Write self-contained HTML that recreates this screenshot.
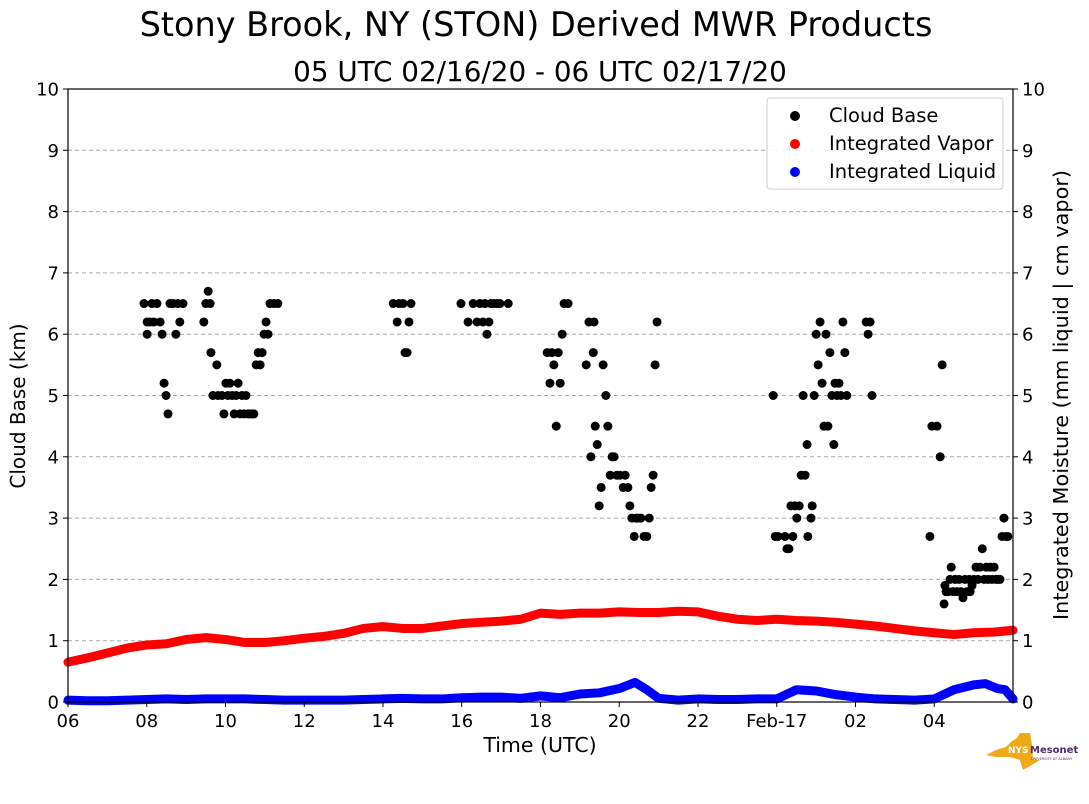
<!DOCTYPE html>
<html><head><meta charset="utf-8"><style>
body{margin:0;background:#fff;}
svg{display:block;font-family:"DejaVu Sans","Liberation Sans",sans-serif;}
</style></head><body>
<svg id="chart" width="1089" height="804" viewBox="0 0 1089 804" xmlns="http://www.w3.org/2000/svg">
<text x="536" y="36" font-size="33.5" text-anchor="middle">Stony Brook, NY (STON) Derived MWR Products</text>
<text x="540" y="81" font-size="27.8" text-anchor="middle">05 UTC 02/16/20 - 06 UTC 02/17/20</text>
<g id="grid"></g>
<g id="marks"></g>
<rect x="68" y="89" width="945" height="613" fill="none" stroke="#000" stroke-width="1.2"/>
<g id="axes"></g>
<text x="540" y="752" font-size="20.5" text-anchor="middle">Time (UTC)</text>
<text transform="translate(25,406) rotate(-90)" font-size="20" text-anchor="middle">Cloud Base (km)</text>
<text transform="translate(1068,395) rotate(-90)" font-size="20.8" text-anchor="middle">Integrated Moisture (mm liquid | cm vapor)</text>
<g>
<rect x="767" y="98" width="236" height="91" rx="3" fill="#fff" fill-opacity="0.85" stroke="#ccc"/>
<circle cx="795" cy="116" r="5" fill="#000"/>
<text x="829" y="122" font-size="19.5">Cloud Base</text>
<circle cx="795" cy="144" r="5" fill="#f00"/>
<text x="829" y="150" font-size="19.5">Integrated Vapor</text>
<circle cx="795" cy="172" r="5" fill="#00f"/>
<text x="829" y="178" font-size="19.5">Integrated Liquid</text>
</g>
<g>
<polygon points="986,755 996,750 1006,747 1012,741 1017,738 1020,733 1030,733 1032,745 1033,760 1040,760 1030,766 1023,770 1020,760 1010,757 996,757" fill="#f0a818"/>
<text x="1008" y="753" font-size="9" font-weight="bold" fill="#fff">NYS</text>
<text x="1030" y="753" font-size="10" font-weight="bold" fill="#4b2a6b">Mesonet</text>
<text x="1031" y="760" font-size="3.5" fill="#4b2a6b">UNIVERSITY AT ALBANY</text>
</g>
</svg>
<script>
const xTickLabels=["06","08","10","12","14","16","18","20","22","Feb-17","02","04"];
const yTicks=[0,1,2,3,4,5,6,7,8,9,10];
const cbHours=[1.93,2.01,2.01,2.08,2.13,2.18,2.26,2.34,2.39,2.44,2.49,2.54,2.59,2.67,2.74,2.79,2.84,2.92,
3.45,3.50,3.56,3.61,3.63,3.68,3.78,3.81,3.91,3.96,4.01,4.06,4.11,4.17,4.22,4.27,4.32,4.37,4.42,4.47,4.52,4.57,4.62,4.67,4.72,4.78,4.83,4.88,4.93,4.98,5.03,5.08,5.13,5.23,5.33,
8.26,8.36,8.41,8.51,8.56,8.61,8.66,8.71,
9.98,10.16,10.29,10.39,10.46,10.54,10.59,10.64,10.69,10.74,10.82,10.90,10.97,11.18,
12.17,12.24,12.29,12.34,12.40,12.45,12.50,12.55,12.60,12.70,
13.16,13.23,13.28,13.34,13.36,13.39,13.44,13.49,13.54,13.59,13.66,13.71,13.77,13.82,13.87,13.94,14.02,14.10,14.15,14.22,14.27,14.32,14.38,14.43,14.48,14.55,14.63,14.70,14.76,14.81,14.86,14.91,14.96,
17.91,17.96,18.03,18.21,18.26,18.31,18.36,18.41,18.46,18.51,18.57,18.62,18.67,18.72,18.77,18.79,18.87,18.90,18.95,19.00,19.05,19.10,19.15,19.20,19.25,19.30,19.35,19.40,19.45,19.48,19.53,19.58,19.63,19.68,19.73,19.78,20.27,20.32,20.37,20.42,
21.89,21.94,22.07,22.15,22.20,22.25,22.27,22.30,22.35,22.40,22.43,22.48,22.53,22.58,22.63,22.68,22.73,22.78,22.83,22.89,22.91,22.96,23.01,23.06,23.11,23.16,23.22,23.27,23.32,23.37,23.42,23.47,23.52,23.57,23.62,23.67,23.72,23.77,23.82,23.87];
const cbKm=[6.5,6.2,6.0,6.2,6.5,6.2,6.5,6.2,6.0,5.2,5.0,4.7,6.5,6.5,6.0,6.5,6.2,6.5,
6.2,6.5,6.7,6.5,5.7,5.0,5.5,5.0,5.0,4.7,5.2,5.0,5.2,5.0,4.7,5.0,5.2,4.7,5.0,4.7,5.0,4.7,4.7,4.7,4.7,5.5,5.7,5.5,5.7,6.0,6.2,6.0,6.5,6.5,6.5,
6.5,6.2,6.5,6.5,5.7,5.7,6.2,6.5,
6.5,6.2,6.5,6.2,6.5,6.2,6.5,6.0,6.2,6.5,6.5,6.5,6.5,6.5,
5.7,5.2,5.7,5.5,4.5,5.7,5.2,6.0,6.5,6.5,
5.5,6.2,4.0,5.7,6.2,4.5,4.2,3.2,3.5,5.5,5.0,4.5,3.7,4.0,4.0,3.7,3.7,3.5,3.7,3.5,3.2,3.0,2.7,3.0,3.0,3.0,2.7,2.7,3.0,3.5,3.7,5.5,6.2,
5.0,2.7,2.7,2.7,2.5,2.5,3.2,2.7,3.2,3.0,3.2,3.7,5.0,3.7,4.2,2.7,3.0,3.2,5.0,6.0,5.5,6.2,5.2,4.5,6.0,4.5,5.7,5.0,4.2,5.2,5.0,5.2,5.0,6.2,5.7,5.0,6.2,6.0,6.2,5.0,
2.7,4.5,4.5,4.0,5.5,1.6,1.9,1.8,1.8,2.0,2.2,1.8,2.0,1.8,2.0,1.8,1.7,2.0,1.8,2.0,1.8,1.9,2.0,2.2,2.0,2.2,2.5,2.0,2.2,2.0,2.2,2.0,2.2,2.0,2.0,2.0,2.7,3.0,2.7,2.7];
const vapHours=[0,0.5,1,1.5,2,2.5,3,3.5,4,4.5,5,5.5,6,6.5,7,7.5,8,8.5,9,9.5,10,10.5,11,11.5,12,12.5,13,13.5,14,14.5,15,15.5,16,16.5,17,17.5,18,18.5,19,19.5,20,20.5,21,21.5,22,22.5,23,23.5,24];
const vapVals=[0.65,0.72,0.8,0.88,0.93,0.95,1.02,1.05,1.02,0.97,0.97,1.0,1.04,1.07,1.12,1.2,1.23,1.2,1.2,1.24,1.28,1.3,1.32,1.35,1.45,1.43,1.45,1.45,1.47,1.46,1.46,1.48,1.47,1.4,1.35,1.33,1.35,1.33,1.32,1.3,1.27,1.24,1.2,1.16,1.13,1.1,1.13,1.14,1.17];
const liqHours=[0,0.5,1,1.5,2,2.5,3,3.5,4,4.5,5,5.5,6,6.5,7,7.5,8,8.5,9,9.5,10,10.5,11,11.5,12,12.5,13,13.5,14,14.4,14.7,15,15.5,16,16.5,17,17.5,18,18.5,19,19.5,20,20.5,21,21.5,22,22.5,23,23.3,23.6,23.8,24];
const liqVals=[0.03,0.02,0.02,0.03,0.04,0.05,0.04,0.05,0.05,0.05,0.04,0.03,0.03,0.03,0.03,0.04,0.05,0.06,0.05,0.05,0.07,0.08,0.08,0.06,0.1,0.07,0.13,0.15,0.22,0.32,0.2,0.06,0.03,0.05,0.04,0.04,0.05,0.05,0.2,0.18,0.12,0.08,0.05,0.04,0.03,0.05,0.2,0.28,0.3,0.22,0.2,0.05];
const NS="http://www.w3.org/2000/svg";
const X0=68,X1=1013,Y0=702,Y1=89;
const xs=h=>X0+(X1-X0)*h/24;
const ys=v=>Y0-(Y0-Y1)*v/10;
function mk(t,a,p){const e=document.createElementNS(NS,t);for(const k in a)e.setAttribute(k,a[k]);p.appendChild(e);return e;}
const grid=document.getElementById('grid'),axes=document.getElementById('axes'),marks=document.getElementById('marks');
yTicks.forEach(v=>{
 if(v>0&&v<10){const g=mk('line',{x1:X0,x2:X1,y1:ys(v),y2:ys(v),stroke:'#aaa','stroke-dasharray':'4,3','stroke-width':1},grid);
 
 }
 [[X0,-5,'end',-9],[X1,5,'start',9]].forEach(([x,d,anc,tx])=>{
  mk('line',{x1:x,x2:x+d,y1:ys(v),y2:ys(v),stroke:'#000'},axes);
  const t=mk('text',{x:x+tx,y:ys(v)+6.5,'font-size':18,'text-anchor':anc},axes);t.textContent=v;
  
  
 });
});
xTickLabels.forEach((l,i)=>{
 const x=xs(i*2);
 mk('line',{x1:x,x2:x,y1:Y0,y2:Y0+5,stroke:'#000'},axes);
 const t=mk('text',{x:x,y:Y0+25,'font-size':18,'text-anchor':'middle'},axes);t.textContent=l;
 
 
});
function line(hs,vs,color,name){
 const p=mk('polyline',{points:hs.map((h,i)=>xs(h)+','+ys(vs[i])).join(' '),fill:'none',stroke:color,'stroke-width':9,'stroke-linecap':'round','stroke-linejoin':'round'},marks);
 
 
}
line(vapHours,vapVals,'#f00','integrated-vapor-series');
line(liqHours,liqVals,'#00f','integrated-liquid-series');
cbHours.forEach((h,i)=>{
 const c=mk('circle',{cx:xs(h),cy:ys(cbKm[i]),r:4.5,fill:'#000'},marks);
 
 
});
</script>
</body></html>
